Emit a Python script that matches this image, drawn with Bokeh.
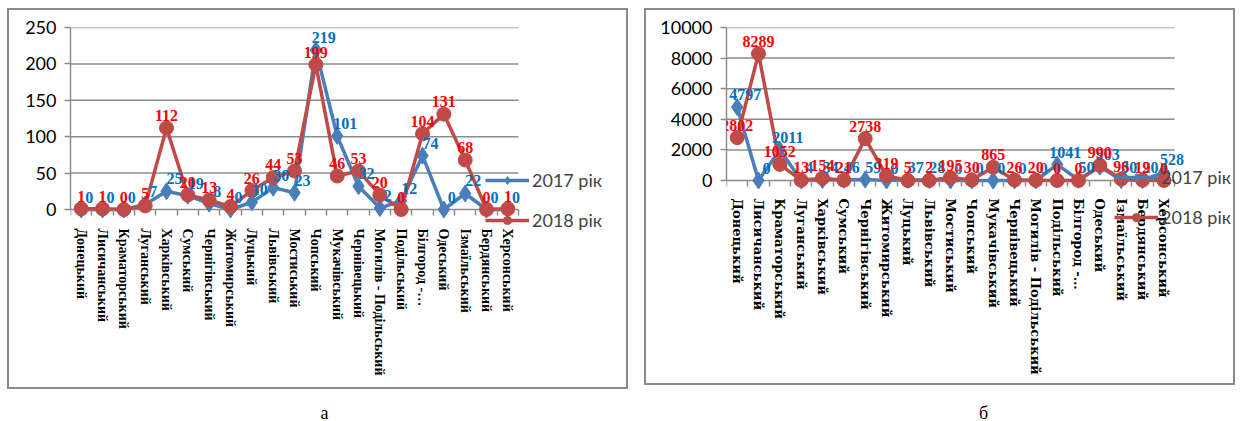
import numpy as np
from bokeh.plotting import figure
from bokeh.models import (ColumnDataSource, Range1d, FixedTicker, LabelSet, Legend,
                          LegendItem, Div, Spacer, LinearAxis)
from bokeh.layouts import row, column
from bokeh.embed import file_html
from bokeh.resources import INLINE
from bokeh.core.properties import value

categories = ["Донецький", "Лисичанський", "Краматорський", "Луганський", "Харківський",
              "Сумський", "Чернігівський", "Житомирський", "Луцький", "Львівський",
              "Мостиський", "Чопський", "Мукачівський", "Чернівецький",
              "Могилів - Подільський", "Подільський", "Білгород -…", "Одеський",
              "Ізмаїльський", "Бердянський", "Херсонський"]

series_names = ["2017 рік", "2018 рік"]

a_2017 = [0, 0, 0, 7, 25, 19, 8, 0, 10, 30, 23, 219, 101, 32, 2, 12, 74, 0, 22, 0, 0]
a_2018 = [1, 1, 0, 5, 112, 20, 13, 4, 26, 44, 53, 199, 46, 53, 20, 0, 104, 131, 68, 0, 1]

b_2017 = [4797, 0, 2011, 4, 34, 46, 59, 0, 37, 28, 0, 0, 0, 0, 0, 1041, 50, 903, 30, 20, 528]
b_2018 = [2802, 8289, 1052, 13, 154, 21, 2738, 319, 5, 2, 195, 30, 865, 26, 20, 0, 0, 990, 96, 19, 0]

a_ticks = [0, 50, 100, 150, 200, 250]
b_ticks = [0, 2000, 4000, 6000, 8000, 10000]

BLUE = "#4A7EBB"
RED = "#BE4B48"
BLUE_TXT = "#0070C0"
RED_TXT = "#FF0000"
GRID = "#8c8c8c"
BORDER = {"border": "2px solid #8a8a8a"}


def make_panel(v17, v18, ticks, ymin, x_end, width, height, borders, cat_font, cat_size,
               standoff, legend_loc):
    n = len(categories)
    xs = np.arange(n)
    p = figure(width=width, height=height, x_range=Range1d(-0.5, x_end),
               y_range=Range1d(ymin, ticks[-1]), output_backend="svg",
               toolbar_location=None, min_border_left=borders[0], min_border_right=borders[1],
               min_border_top=borders[2], min_border_bottom=borders[3])
    p.title = None
    p.outline_line_color = None
    p.background_fill_color = "white"
    p.styles = BORDER

    # category labels (no ticks)
    xa = p.xaxis[0]
    xa.axis_label = None
    xa.ticker = FixedTicker(ticks=list(xs))
    xa.major_label_overrides = {int(i): c for i, c in zip(xs, categories)}
    xa.major_label_orientation = "vertical"
    xa.major_tick_out = 0
    xa.major_tick_in = 0
    xa.minor_tick_out = 0
    xa.minor_tick_in = 0
    xa.axis_line_color = None
    xa.major_label_standoff = standoff
    xa.major_label_text_font = cat_font
    xa.major_label_text_font_style = "bold"
    xa.major_label_text_font_size = cat_size
    xa.major_label_text_color = "black"
    p.xgrid.grid_line_color = None

    # category boundary tick marks hanging from the zero line
    tick_axis = LinearAxis(fixed_location=0,
                           ticker=FixedTicker(ticks=[], minor_ticks=[i - 0.5 for i in range(n + 1)]),
                           axis_line_color=None, major_tick_out=0, major_tick_in=0,
                           minor_tick_out=6, minor_tick_in=0, minor_tick_line_color=GRID,
                           minor_tick_line_width=1.5, major_label_text_font_size="0px")
    p.add_layout(tick_axis, "below")

    ya = p.yaxis[0]
    ya.axis_label = None
    ya.ticker = FixedTicker(ticks=ticks)
    ya.bounds = (0, ticks[-1])
    ya.major_tick_out = 6
    ya.major_tick_in = 0
    ya.major_tick_line_color = GRID
    ya.major_tick_line_width = 1.5
    ya.axis_line_color = GRID
    ya.axis_line_width = 1.5
    ya.major_label_standoff = 8
    ya.major_label_text_font = "Lato"
    ya.major_label_text_font_size = "18px"
    ya.major_label_text_color = "black"
    p.ygrid.grid_line_color = None

    # horizontal gridlines spanning the category area only
    p.segment(x0=-0.5, x1=n - 0.5, y0=ticks, y1=ticks, line_color=GRID, line_width=1.5)

    s17 = ColumnDataSource(dict(x=xs, y=v17, lbl=[str(v) for v in v17]))
    s18 = ColumnDataSource(dict(x=xs, y=v18, lbl=[str(v) for v in v18]))
    l1 = p.line("x", "y", source=s17, line_color=BLUE, line_width=3.5)
    m1 = p.scatter("x", "y", source=s17, marker="diamond", size=17, fill_color=BLUE, line_color=BLUE)
    l2 = p.line("x", "y", source=s18, line_color=RED, line_width=3.5)
    m2 = p.scatter("x", "y", source=s18, marker="circle", size=14, fill_color=RED, line_color=RED)

    p.add_layout(LabelSet(x="x", y="y", text="lbl", source=s17, x_offset=8, y_offset=7,
                          text_align="center", text_baseline="bottom",
                          text_font=value("Liberation Serif"), text_font_style="bold",
                          text_font_size="16px", text_color=BLUE_TXT))
    p.add_layout(LabelSet(x="x", y="y", text="lbl", source=s18, x_offset=0, y_offset=7,
                          text_align="center", text_baseline="bottom",
                          text_font=value("Liberation Serif"), text_font_style="bold",
                          text_font_size="16px", text_color=RED_TXT))

    legend = Legend(items=[LegendItem(label=series_names[0], renderers=[l1, m1]),
                           LegendItem(label=series_names[1], renderers=[l2, m2])],
                    location=legend_loc, glyph_width=44, glyph_height=20, label_height=20,
                    spacing=18, padding=0, margin=0, border_line_color=None,
                    background_fill_alpha=0, label_text_font="Lato",
                    label_text_font_size="18px", label_standoff=3)
    p.add_layout(legend)
    return p


p1 = make_panel(a_2017, a_2018, a_ticks, -35.7, 24.81, 621, 381, (61, 20, 17, 156),
                "Liberation Serif", "14px", -7, (415, 4))
p2 = make_panel(b_2017, b_2018, b_ticks, -3333, 23.31, 591, 377, (80, 3, 17, 156),
                "DejaVu Serif", "13px", -33, (388, 3))

cap_style = {"font-family": "Liberation Serif", "font-size": "18px", "color": "black",
             "padding-top": "7px"}
cap1 = Div(text="а", width=625, height=26, styles=dict(cap_style, **{"text-align": "center"}))
cap2 = Div(text="б", width=40, height=26, styles=cap_style)

top = row(Spacer(width=7), p1, Spacer(width=16), p2)
bottom = row(Spacer(width=7), cap1, Spacer(width=332), cap2)
layout = column(Spacer(height=8), top, bottom)

open("out.html", "w").write(file_html(layout, INLINE))
